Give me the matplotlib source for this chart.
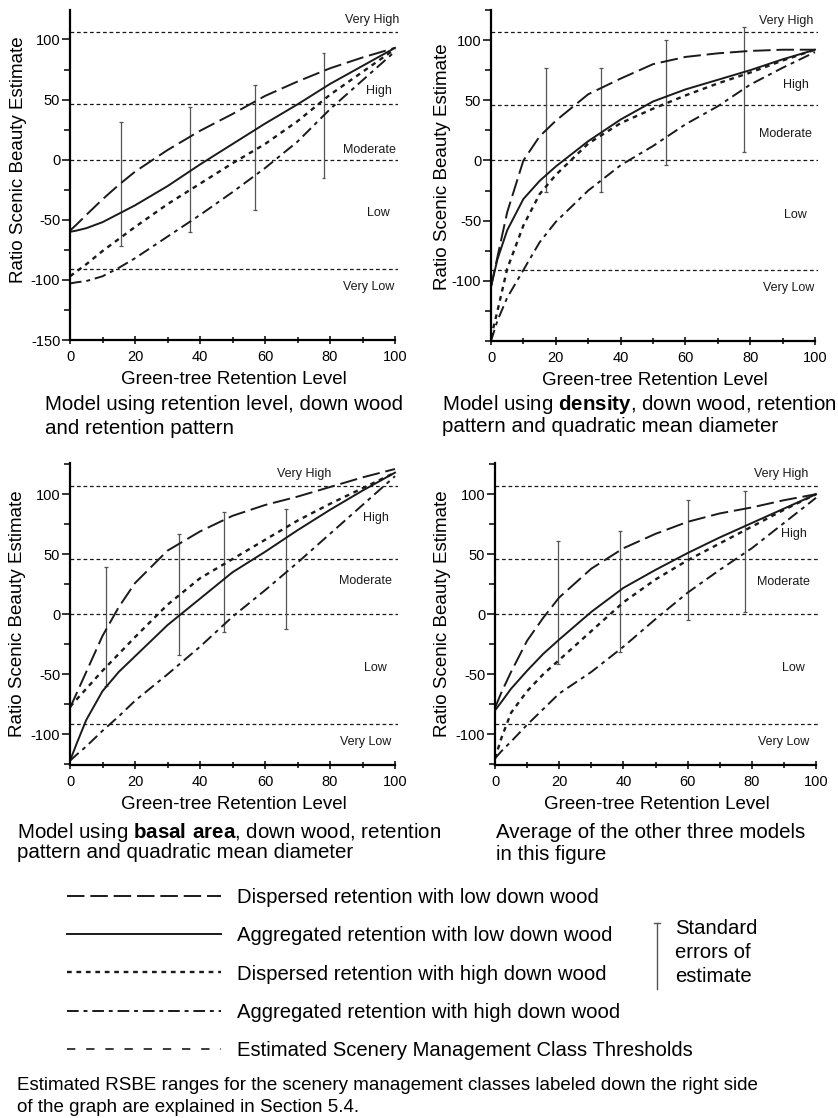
import numpy as np
import matplotlib.pyplot as plt
from matplotlib.lines import Line2D
from matplotlib.ticker import MultipleLocator

plt.rcParams['font.family'] = ['Liberation Sans', 'DejaVu Sans']
plt.rcParams['axes.unicode_minus'] = False
plt.rcParams['mathtext.fontset'] = 'custom'
plt.rcParams['mathtext.rm'] = 'Liberation Sans'
plt.rcParams['mathtext.bf'] = 'Liberation Sans:bold'

# ---- data ----
series_names = ['Dispersed retention with low down wood',
                'Aggregated retention with low down wood',
                'Dispersed retention with high down wood',
                'Aggregated retention with high down wood']

X = [0, 2, 5, 10, 15, 20, 30, 40, 50, 60, 70, 80, 90, 100]

# panel 1: retention level model
p1_disp_low = [-59, -54, -46, -33, -21, -10, 8, 24, 38, 53, 65, 76, 85, 93]
p1_aggr_low = [-60, -59, -57, -52, -45, -38, -22, -4, 13, 30, 46, 63, 78, 93]
p1_disp_high = [-97, -93, -87, -76, -66, -56, -37, -20, -3, 13, 32, 54, 73, 92]
p1_aggr_high = [-103, -102, -101, -97, -90, -82, -64, -46, -27, -7, 15, 42, 66, 90]
p1_err_x = [15.6, 37, 57, 78]
p1_err_lo = [-72, -60, -42, -15]
p1_err_hi = [31, 44, 62, 89]

# panel 2: density model
p2_disp_low = [-105, -80, -43, 0, 20, 33, 55, 68, 80, 86, 89, 91, 92, 92]
p2_aggr_low = [-105, -82, -58, -32, -17, -5, 16, 34, 49, 59, 67, 75, 84, 92]
p2_disp_high = [-147, -125, -90, -54, -28, -12, 14, 31, 43, 54, 64, 73, 83, 92]
p2_aggr_high = [-150, -133, -114, -91, -68, -51, -25, -4, 12, 30, 45, 63, 77, 90]
p2_err_x = [17, 34, 54, 78]
p2_err_lo = [-26, -26, -4, 7]
p2_err_hi = [77, 77, 100, 111]

# panel 3: basal area model
p3_disp_low = [-78, -66, -48, -18, 6, 26, 53, 69, 82, 91, 98, 106, 114, 121]
p3_aggr_low = [-122, -108, -88, -64, -48, -35, -9, 13, 35, 52, 70, 87, 103, 118]
p3_disp_high = [-77, -71, -62, -47, -33, -19, 8, 30, 46, 62, 78, 92, 105, 118]
p3_aggr_high = [-122, -117, -110, -97, -85, -72, -50, -27, -2, 20, 43, 67, 91, 115]
p3_err_x = [11, 33.5, 47.5, 66.5]
p3_err_lo = [-60, -34, -15, -12]
p3_err_hi = [39, 67, 85, 88]

# panel 4: average of the three
p4_disp_low = [-78, -65, -48, -22, -3, 14, 38, 55, 67, 77, 84, 89, 95, 100]
p4_aggr_low = [-80, -73, -62, -47, -33, -21, 2, 22, 37, 51, 64, 76, 88, 100]
p4_disp_high = [-120, -103, -82, -64, -50, -38, -14, 10, 29, 45, 59, 73, 87, 100]
p4_aggr_high = [-120, -114, -106, -92, -79, -66, -48, -27, -4, 18, 37, 55, 76, 97]
p4_err_x = [19.5, 39, 60, 78]
p4_err_lo = [-41, -31, -5, 2]
p4_err_hi = [61, 69, 95, 103]

thresholds = [106.5, 46, 0, -91]
class_names = ['Very High', 'High', 'Moderate', 'Low', 'Very Low']
p1_class_x = [93, 95, 92, 95, 92]
p1_class_y = [116, 57, 8, -44, -106]
p2_class_x = [91, 94, 91, 94, 92]
p2_class_y = [116, 63, 22, -45, -106]
p3_class_x = [72, 94, 91, 94, 91]
p3_class_y = [117, 80, 28, -45, -106]
p4_class_x = [89, 93, 90, 93, 90]
p4_class_y = [117, 67, 27, -45, -106]

captions = [
    ['Model using retention level, down wood', 'and retention pattern'],
    [r'Model using $\mathbf{density}$, down wood, retention', 'pattern and quadratic mean diameter'],
    [r'Model using $\mathbf{basal\ area}$, down wood, retention', 'pattern and quadratic mean diameter'],
    ['Average of the other three models', 'in this figure'],
]

# ---- styles ----
ink = '#1a1a1a'
styles = [
    dict(color=ink, lw=1.4, linestyle=(0, (9, 3))),
    dict(color=ink, lw=1.4, linestyle='-'),
    dict(color=ink, lw=1.7, linestyle=(0, (2, 2))),
    dict(color=ink, lw=1.4, linestyle=(0, (6, 2.5, 2, 2.5))),
]

W, H = 838, 1118
fig = plt.figure(figsize=(W / 100, H / 100), dpi=100)


def px_axes(left, x100, top, bottom):
    right = left + (x100 - left) * 101 / 100
    return fig.add_axes([left / W, 1 - bottom / H, (right - left) / W, (bottom - top) / H])


panels = [
    dict(box=(70, 395, 10, 340), ylim=(-150, 124.5),
         curves=[p1_disp_low, p1_aggr_low, p1_disp_high, p1_aggr_high],
         err=(p1_err_x, p1_err_lo, p1_err_hi), cls=(p1_class_x, p1_class_y),
         yticks=[-150, -100, -50, 0, 50, 100], ylab=(-0.132, 0.545),
         cap=(45, 405, 428)),
    dict(box=(491, 815, 10, 341), ylim=(-150, 125),
         curves=[p2_disp_low, p2_aggr_low, p2_disp_high, p2_aggr_high],
         err=(p2_err_x, p2_err_lo, p2_err_hi), cls=(p2_class_x, p2_class_y),
         yticks=[-100, -50, 0, 50, 100], ylab=(-0.123, 0.526),
         cap=(442, 405, 427)),
    dict(box=(70, 395, 463, 765), ylim=(-125.5, 126),
         curves=[p3_disp_low, p3_aggr_low, p3_disp_high, p3_aggr_high],
         err=(p3_err_x, p3_err_lo, p3_err_hi), cls=(p3_class_x, p3_class_y),
         yticks=[-100, -50, 0, 50, 100], ylab=(-0.135, 0.5),
         cap=(17, 832, 853)),
    dict(box=(495, 816, 463, 765), ylim=(-125.5, 126),
         curves=[p4_disp_low, p4_aggr_low, p4_disp_high, p4_aggr_high],
         err=(p4_err_x, p4_err_lo, p4_err_hi), cls=(p4_class_x, p4_class_y),
         yticks=[-100, -50, 0, 50, 100], ylab=(-0.137, 0.5),
         cap=(496, 832, 855)),
]

for i, p in enumerate(panels):
    ax = px_axes(*p['box'])
    ax.set_xlim(0, 101)
    ax.set_ylim(*p['ylim'])
    for sp in ['top', 'right']:
        ax.spines[sp].set_visible(False)
    ax.spines['left'].set_linewidth(1.6)
    ax.spines['bottom'].set_linewidth(1.6)
    ax.spines['bottom'].set_bounds(0, 100)

    for t in thresholds:
        ax.axhline(t, color=ink, lw=0.9, linestyle=(0, (3, 2.2)))

    ex, elo, ehi = p['err']
    ex = np.array(ex)
    ax.vlines(ex, elo, ehi, color='#555555', lw=0.9)
    ax.hlines(elo, ex - 0.6, ex + 0.6, color='#555555', lw=0.9)
    ax.hlines(ehi, ex - 0.6, ex + 0.6, color='#555555', lw=0.9)

    for ys, st in zip(p['curves'], styles):
        ax.plot(X, ys, **st)

    cx, cy = p['cls']
    for name, xx, yy in zip(class_names, cx, cy):
        ax.text(xx, yy, name, fontsize=9, ha='center', va='center', color=ink)

    ax.set_xticks([0, 20, 40, 60, 80, 100])
    ax.xaxis.set_minor_locator(MultipleLocator(10))
    ax.set_yticks(p['yticks'])
    ax.yaxis.set_minor_locator(MultipleLocator(25))
    ax.tick_params(axis='x', which='both', direction='inout', length=6, width=1.1,
                   labelsize=10.5, pad=4)
    ax.tick_params(axis='x', which='minor', length=4)
    ax.tick_params(axis='y', which='major', direction='out', length=6, width=1.1,
                   labelsize=10.5, pad=1)
    ax.tick_params(axis='y', which='minor', direction='out', length=4, width=1.1)
    ax.set_xlabel('Green-tree Retention Level', fontsize=13.5, labelpad=5)
    ax.set_ylabel('Ratio Scenic Beauty Estimate', fontsize=13.5)
    ax.yaxis.set_label_coords(*p['ylab'])

    cxp, y1, y2 = p['cap']
    fig.text(cxp / W, 1 - y1 / H, captions[i][0], fontsize=14.8, ha='left', va='center')
    fig.text(cxp / W, 1 - y2 / H, captions[i][1], fontsize=14.8, ha='left', va='center')

# ---- legend ----
handles = [Line2D([], [], **st) for st in styles]
handles.append(Line2D([], [], color=ink, lw=1.2, linestyle=(0, (5, 6.5))))
labels = series_names + ['Estimated Scenery Management Class Thresholds']
fig.legend(handles, labels, loc='upper left', bbox_to_anchor=(67 / W, 1 - 888 / H),
           frameon=False, fontsize=14.6, handlelength=7.6, handletextpad=0.8,
           labelspacing=0.95, borderpad=0, borderaxespad=0)

# standard error glyph
fig.add_artist(Line2D([657 / W, 657 / W], [1 - 923 / H, 1 - 989 / H], color='#555555', lw=1.0))
fig.add_artist(Line2D([654 / W, 660 / W], [1 - 923 / H, 1 - 923 / H], color='#555555', lw=1.0))
for txt, yy in zip(['Standard', 'errors of', 'estimate'], [928, 952, 977]):
    fig.text(675 / W, 1 - yy / H, txt, fontsize=14.6, ha='left', va='center')

fig.text(17 / W, 1 - 1085 / H,
         'Estimated RSBE ranges for the scenery management classes labeled down the right side',
         fontsize=13.5, ha='left', va='center')
fig.text(17 / W, 1 - 1108 / H, 'of the graph are explained in Section 5.4.',
         fontsize=13.5, ha='left', va='center')

fig.savefig('out.png', dpi=100)
